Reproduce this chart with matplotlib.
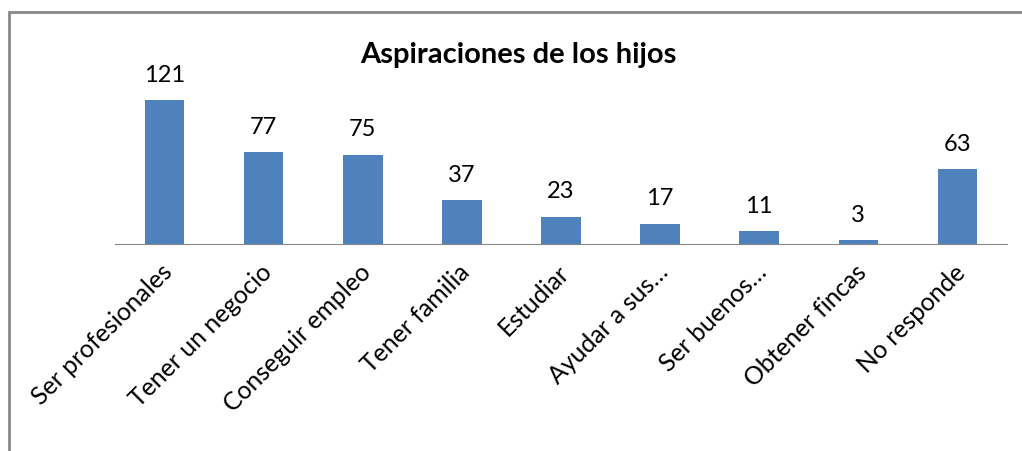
import matplotlib.pyplot as plt
import matplotlib.transforms as mtransforms
from matplotlib.patches import Rectangle

categorias = ['Ser profesionales', 'Tener un negocio', 'Conseguir empleo', 'Tener familia',
              'Estudiar', 'Ayudar a sus…', 'Ser buenos…', 'Obtener fincas', 'No responde']
valores = [121, 77, 75, 37, 23, 17, 11, 3, 63]
titulo = 'Aspiraciones de los hijos'

plt.rcParams['font.family'] = ['Lato', 'DejaVu Sans']

W, H = 1022, 452
fig = plt.figure(figsize=(W / 100, H / 100), dpi=100)
# axes in pixel terms: left 115, right 1007, baseline 245, top 60
ax = fig.add_axes([115 / W, 1 - 245 / H, (1007 - 115) / W, (245 - 60) / H])

x = range(len(categorias))
ax.bar(x, valores, width=0.4, color='#4f81bd')
ax.set_xlim(-0.5, len(categorias) - 0.5)
ax.set_ylim(0, 185 / 1.19)

for xi, v in zip(x, valores):
    ax.annotate(str(v), (xi, v), xytext=(0, 11), textcoords='offset points',
                ha='center', va='bottom', fontsize=17)

ax.set_xticks(list(x))
ax.set_xticklabels(categorias, rotation=45, ha='right', va='center',
                   rotation_mode='anchor', fontsize=17.8)
ax.tick_params(axis='x', length=0, pad=17)
# nudge labels slightly right
shift = mtransforms.ScaledTranslation(4 / 100, 0, fig.dpi_scale_trans)
for lbl in ax.get_xticklabels():
    lbl.set_transform(lbl.get_transform() + shift)
ax.set_yticks([])
for s in ['top', 'right', 'left']:
    ax.spines[s].set_visible(False)
ax.spines['bottom'].set_color('#888888')

fig.text(518 / W, 1 - 55 / H, titulo, ha='center', va='center', fontsize=21, fontweight='bold')

# chart border (partially cropped at right and bottom)
fig.patches.append(Rectangle((8.5 / W, -0.1), 1.2, 1 - 13 / H + 0.1, transform=fig.transFigure,
                             fill=False, edgecolor='#888888', linewidth=2))

fig.savefig('out.png', dpi=100)
